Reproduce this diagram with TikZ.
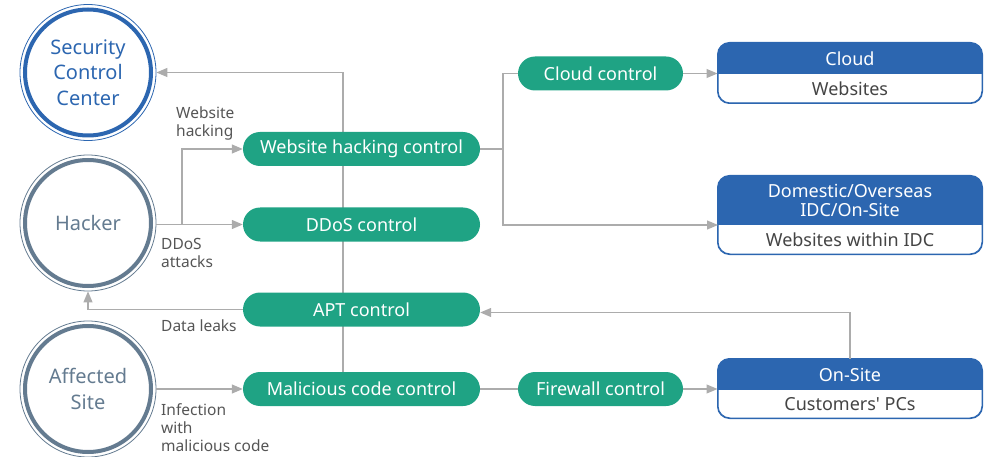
\documentclass[tikz,border=0pt]{standalone}
\usepackage{fontspec}
\setmainfont{Noto Sans}
\usetikzlibrary{arrows.meta,calc}
\definecolor{pillgreen}{HTML}{1FA384}
\definecolor{boxblue}{HTML}{2C66B0}
\definecolor{linegray}{HTML}{ACACAC}
\definecolor{ringgray}{HTML}{647B90}
\definecolor{labelgray}{HTML}{555555}
\definecolor{bodygray}{HTML}{444444}
\tikzset{
  pill/.style={rectangle, rounded corners=17pt, fill=pillgreen, text=white, minimum height=34pt, inner sep=0pt, font=\fontsize{18}{20}\selectfont},
  conn/.style={draw=linegray, line width=1.2pt},
  arr/.style={conn, -{Triangle[length=11pt,width=9pt]}},
  ring/.style={circle, draw=#1, line width=0.8pt, minimum size=136pt, inner sep=0pt, text=#1, align=center, font=\fontsize{20}{25.5}\selectfont},
  lbl/.style={anchor=north west, inner sep=0pt, text=labelgray, align=left, font=\fontsize{15.5}{18}\selectfont},
  bbox/.style={rectangle, rounded corners=12pt, draw=boxblue, line width=1pt, fill=white, minimum width=264pt, inner sep=0pt},
  bhead/.style={text=white, inner sep=0pt, align=center, font=\fontsize{18}{19}\selectfont},
  bbody/.style={text=bodygray, inner sep=0pt, font=\fontsize{18}{20}\selectfont},
}
\begin{document}
\begin{tikzpicture}[x=1pt,y=-1pt]
\useasboundingbox (0,0) rectangle (985,457);
% circles
\node[ring=boxblue] (scc) at (88,72.5) {Security\\Control\\Center};
\draw[boxblue, line width=4pt] (scc.center) circle (63);
\node[ring=ringgray] (hack) at (88,223) {Hacker};
\draw[ringgray, line width=4pt] (hack.center) circle (63);
\node[ring=ringgray] (aff) at (88,389) {Affected\\Site};
\draw[ringgray, line width=4pt] (aff.center) circle (63);
% helper columns
\coordinate (vx) at (343,0);
\coordinate (bx) at (182,0);
\coordinate (jx) at (503,0);
\coordinate (ox) at (850,0);
\path (361.5,149) coordinate (webc) (361.5,224.5) coordinate (ddosc) (361.5,309.5) coordinate (aptc) (361.5,389) coordinate (malc);
\draw[arr] (malc -| vx) |- (scc.east);
% pills
\node[pill, minimum width=237pt] (web) at (webc) {Website hacking control};
\node[pill, minimum width=237pt] (ddos) at (ddosc) {DDoS control};
\node[pill, minimum width=237pt] (apt) at (aptc) {APT control};
\node[pill, minimum width=237pt] (mal) at (malc) {Malicious code control};
\node[pill, minimum width=165pt] (cloudc) at (600.5,73.5) {Cloud control};
\node[pill, minimum width=165pt] (fw) at (600.5,389) {Firewall control};
% blue boxes
\node[bbox, minimum height=60pt] (cloud) at (850,73) {};
\node[bbox, minimum height=78pt] (dom) at (850,215) {};
\node[bbox, minimum height=59pt] (site) at (850,388.5) {};
\begin{scope}
\clip[rounded corners=12pt] (cloud.south west) rectangle (cloud.north east);
\fill[boxblue] (cloud.north west) rectangle (982,74);
\end{scope}
\begin{scope}
\clip[rounded corners=12pt] (dom.south west) rectangle (dom.north east);
\fill[boxblue] (dom.north west) rectangle (982,225);
\end{scope}
\begin{scope}
\clip[rounded corners=12pt] (site.south west) rectangle (site.north east);
\fill[boxblue] (site.north west) rectangle (982,390);
\end{scope}
\draw[boxblue, line width=1pt, rounded corners=12pt] (cloud.south west) rectangle (cloud.north east);
\draw[boxblue, line width=1pt, rounded corners=12pt] (dom.south west) rectangle (dom.north east);
\draw[boxblue, line width=1pt, rounded corners=12pt] (site.south west) rectangle (site.north east);
\node[bhead] (cloudh) at (850,58.5) {Cloud};
\node[bbody] (cloudb) at (850,88.5) {Websites};
\node[bhead] (domh) at (850,200.5) {Domestic/Overseas\\IDC/On-Site};
\node[bbody] (domb) at (850,240) {Websites within IDC};
\node[bhead] (siteh) at (850,374.5) {On-Site};
\node[bbody] (siteb) at (850,404.5) {Customers\textquotesingle{} PCs};
\coordinate (domj) at (718,225);
% connectors
\draw[arr] (hack.east |- ddos.west) -- (ddos.west);
\draw[arr] (ddos.west -| bx) |- (web.west);
\draw[arr] (apt.west) -| (hack.south);
\draw[arr] (aff.east |- mal.west) -- (mal.west);
\draw[conn] (web.east) -- (web.east -| jx);
\draw[conn] (web.east -| jx) |- (cloudc.west);
\draw[arr] (web.east -| jx) |- (domj);
\draw[arr] (cloudc.east) -- (cloud.west |- cloudc.east);
\draw[conn] (mal.east) -- (fw.west);
\draw[arr] (fw.east) -- (site.west |- fw.east);
\draw[arr] (site.north -| ox) |- ([yshift=-3pt]apt.east);
% labels
\node[lbl] (l1) at (176,107) {Website\\hacking};
\node[lbl] (l2) at (161,238) {DDoS\\attacks};
\node[lbl] (l3) at (161,320) {Data leaks};
\node[lbl] (l4) at (161,403) {Infection\\with\\malicious code};
\end{tikzpicture}
\end{document}
